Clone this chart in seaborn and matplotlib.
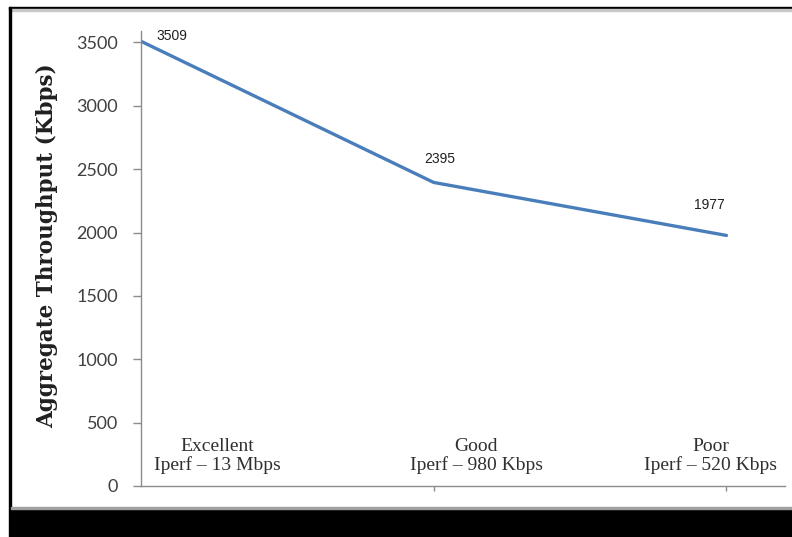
import matplotlib
matplotlib.use("Agg")
import matplotlib.pyplot as plt
import seaborn as sns
import pandas as pd
from matplotlib.patches import Rectangle

# Throughput measured under three link-quality conditions
conditions = ["Excellent\nIperf \u2013 13 Mbps", "Good\nIperf \u2013 980 Kbps", "Poor\nIperf \u2013 520 Kbps"]
throughput = [3509, 2395, 1977]
y_ticks = [0, 500, 1000, 1500, 2000, 2500, 3000, 3500]

df = pd.DataFrame({"pos": range(len(throughput)), "kbps": throughput})

sns.set_theme(style="white")
plt.rcParams["font.family"] = ["Lato", "DejaVu Sans"]

fig = plt.figure(figsize=(7.92, 5.37), dpi=100)
fig.patch.set_facecolor("white")
ax = fig.add_axes([141 / 792, 51 / 537, 644 / 792, 455 / 537])

line_color = "#4A7EBB"
sns.lineplot(data=df, x="pos", y="kbps", ax=ax, color=line_color, linewidth=2.4)

ax.set_xlim(0, 2.2)
ax.set_ylim(0, 3590)
ax.set_yticks(y_ticks)
ax.set_yticklabels([str(v) for v in y_ticks], fontsize=13, color="#404040")
ax.set_xticks([1, 2])
ax.set_xticklabels([])
ax.set_xlabel("")
ax.set_ylabel("")

axis_gray = "#8C8C8C"
for side in ["top", "right"]:
    ax.spines[side].set_visible(False)
for side in ["left", "bottom"]:
    ax.spines[side].set_color(axis_gray)
    ax.spines[side].set_linewidth(1.0)
ax.tick_params(axis="y", direction="out", length=5.5, width=1, color=axis_gray, pad=11, left=True)
ax.tick_params(axis="x", direction="out", length=3.5, width=1, color=axis_gray, bottom=True)

# Category captions drawn inside the plot area above the axis
caption_x = [0.26, 1.145, 1.945]
for cx, txt in zip(caption_x, conditions):
    ax.text(cx, 235, txt, ha="center", va="center", fontsize=14,
            family=["Liberation Serif"], color="#303030", linespacing=1.12)

# Value labels next to each point
offsets = [(31, 5), (6, 23), (-17, 30)]
for i, (v, off) in enumerate(zip(throughput, offsets)):
    ax.annotate(str(v), (i, v), xytext=off, textcoords="offset pixels",
                ha="center", va="center", fontsize=10, color="#202020",
                family=["Liberation Sans Narrow", "Liberation Sans"])

fig.text(47 / 792, 1 - 246 / 537, "Aggregate Throughput (Kbps)", rotation=90,
         ha="center", va="center", fontsize=15.5, fontweight="bold",
         family=["DejaVu Serif"], color="#202020")

# Outer frame: dark rules at top and left, solid band along the bottom
fig.patches.append(Rectangle((9 / 792, 1 - 9 / 537), 783 / 792, 2 / 537,
                             transform=fig.transFigure, color="black", zorder=5))
fig.patches.append(Rectangle((9 / 792, 1 - 11 / 537), 783 / 792, 2 / 537,
                             transform=fig.transFigure, color="#C8C8C8", zorder=5))
fig.patches.append(Rectangle((9 / 792, 28 / 537), 2 / 792, 502 / 537,
                             transform=fig.transFigure, color="black", zorder=5))
fig.patches.append(Rectangle((9 / 792, 0), 783 / 792, 28 / 537,
                             transform=fig.transFigure, color="black", zorder=5))
fig.patches.append(Rectangle((11 / 792, 28 / 537), 781 / 792, 2 / 537,
                             transform=fig.transFigure, color="#A0A0A0", zorder=5))

fig.savefig("out.png", dpi=100, facecolor="white")
